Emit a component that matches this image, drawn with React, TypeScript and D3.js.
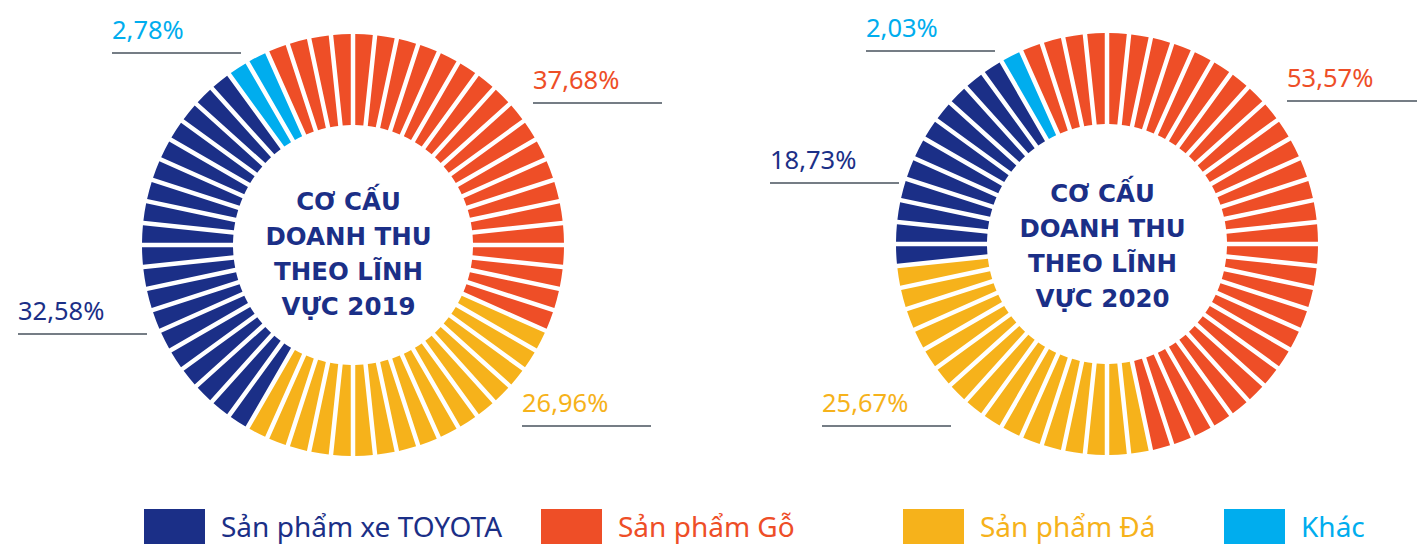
import * as d3 from 'd3';
import { useEffect, useRef } from 'react';

// categories + colours (legend order)
const categories = ['Sản phẩm xe TOYOTA', 'Sản phẩm Gỗ', 'Sản phẩm Đá', 'Khác'];
const colors = ['#1b2f87', '#ee4e27', '#f6b21b', '#00adee'];

// revenue share by year, %
const share2019 = [32.58, 37.68, 26.96, 2.78];
const share2020 = [18.73, 53.57, 25.67, 2.03];

// clockwise order around the ring, starting top-left
const ringOrder = [1, 2, 0, 3];

const width = 1417;
const height = 544;
const segCount = 60;
const outerR = 211;
const innerR = 120;
const startDeg = -24;

const charts = [
    {
        year: '2019', values: share2019, cx: 353, cy: 245, titleY: 210,
        // label underline per category (same order as categories)
        labels: [
            { x1: 18, x2: 147, y: 334 },
            { x1: 533, x2: 662, y: 103 },
            { x1: 522, x2: 651, y: 426 },
            { x1: 112, x2: 241, y: 53 },
        ],
    },
    {
        year: '2020', values: share2020, cx: 1107, cy: 244, titleY: 202,
        labels: [
            { x1: 770, x2: 899, y: 183 },
            { x1: 1287, x2: 1417, y: 101 },
            { x1: 822, x2: 951, y: 426 },
            { x1: 866, x2: 995, y: 51 },
        ],
    },
];

const legendX = [144, 541, 903, 1224];

const fmt = (v: number) => v.toFixed(2).replace('.', ',') + '%';

export default function App() {
    const svgRef = useRef<SVGSVGElement>(null);

    useEffect(() => {
        const svg = d3.select(svgRef.current);
        svg.selectAll('*').remove();

        const step = (2 * Math.PI) / segCount;
        const start = (startDeg * Math.PI) / 180;

        const arc = d3.arc<any>()
            .innerRadius(innerR)
            .outerRadius(outerR)
            .padAngle(4.5 / outerR)
            .padRadius(outerR);

        charts.forEach(chart => {
            const pie = d3.pie<number>()
                .sort(null)
                .value(d => d)
                .startAngle(start)
                .endAngle(start + 2 * Math.PI);
            const slices = pie(ringOrder.map(k => chart.values[k]));

            // each segment takes the colour of the slice under its midpoint
            const segs = d3.range(segCount).map(i => {
                const mid = (i + 0.5) * step;
                const m = mid < start ? mid + 2 * Math.PI : (mid >= start + 2 * Math.PI ? mid - 2 * Math.PI : mid);
                const hit = slices.find(s => m >= s.startAngle && m < s.endAngle) || slices[0];
                return { startAngle: i * step, endAngle: (i + 1) * step, cat: ringOrder[hit.index] };
            });

            const g = svg.append('g').attr('transform', `translate(${chart.cx},${chart.cy})`);
            g.selectAll('path')
                .data(segs)
                .enter()
                .append('path')
                .attr('d', arc)
                .attr('fill', d => colors[d.cat]);

            // centre title
            const lines = ['CƠ CẤU', 'DOANH THU', 'THEO LĨNH', `VỰC ${chart.year}`];
            svg.append('g')
                .selectAll('text')
                .data(lines)
                .enter()
                .append('text')
                .attr('x', chart.cx - 4.5)
                .attr('y', (d, i) => chart.titleY + i * 35)
                .attr('text-anchor', 'middle')
                .attr('font-family', '"DejaVu Sans", sans-serif')
                .attr('font-weight', 'bold')
                .attr('font-size', 24.5)
                .attr('fill', colors[0])
                .text(d => d);

            // percentage labels with underline
            const lab = svg.append('g')
                .selectAll('g')
                .data(chart.labels)
                .enter()
                .append('g');
            lab.append('line')
                .attr('x1', d => d.x1)
                .attr('x2', d => d.x2)
                .attr('y1', d => d.y)
                .attr('y2', d => d.y)
                .attr('stroke', '#47525c')
                .attr('stroke-width', 1.5);
            lab.append('text')
                .attr('x', d => d.x1)
                .attr('y', d => d.y - 14)
                .attr('font-family', '"Noto Sans", sans-serif')
                .attr('font-size', 25.5)
                .attr('fill', (d, i) => colors[i])
                .text((d, i) => fmt(chart.values[i]));
        });

        // legend
        const leg = svg.append('g')
            .selectAll('g')
            .data(categories)
            .enter()
            .append('g')
            .attr('transform', (d, i) => `translate(${legendX[i]},0)`);
        leg.append('rect')
            .attr('x', 0)
            .attr('y', 509)
            .attr('width', 61)
            .attr('height', 40)
            .attr('fill', (d, i) => colors[i]);
        leg.append('text')
            .attr('x', 77)
            .attr('y', 537)
            .attr('font-family', '"Noto Sans", sans-serif')
            .attr('font-size', 28)
            .attr('fill', (d, i) => colors[i])
            .text(d => d);
    }, []);

    return (
        <svg
            ref={svgRef}
            width={width}
            height={height}
            style={{ position: 'absolute', left: 0, top: 0, background: '#fff' }}
        />
    );
}
